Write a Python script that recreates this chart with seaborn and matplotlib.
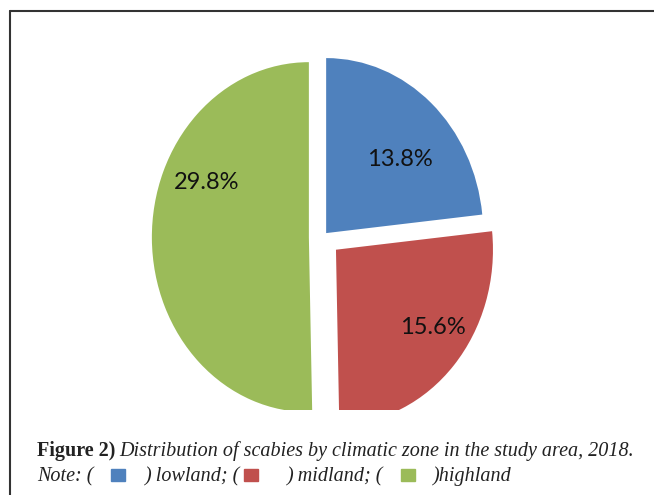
import matplotlib
matplotlib.use("Agg")
import matplotlib.pyplot as plt
import seaborn as sns
from matplotlib.lines import Line2D
from matplotlib.patches import Rectangle
import numpy as np

# data
zones = ["lowland", "midland", "highland"]
scabies_pct = [13.8, 15.6, 29.8]
zone_colors = ["#4F81BD", "#C0504D", "#9BBB59"]

sns.set_theme(style="white")
plt.rcParams["font.family"] = ["Lato", "DejaVu Sans"]

W, H = 654, 495
fig = plt.figure(figsize=(W / 100, H / 100), dpi=100)

# pie area (pixels from top-left)
ax_l, ax_r, ax_t, ax_b = 100, 546, 40, 410
cx, cy, rx, ry = 323, 237, 157, 175
ax = fig.add_axes([ax_l / W, (H - ax_b) / H, (ax_r - ax_l) / W, (ax_b - ax_t) / H])

total = sum(scabies_pct)
wedges, texts, autotexts = ax.pie(
    scabies_pct,
    colors=sns.color_palette(zone_colors),
    explode=[0.03, 0.11, 0.09],
    startangle=90,
    counterclock=False,
    autopct=lambda p: f"{p * total / 100:.1f}%",
    pctdistance=0.7,
    wedgeprops=dict(linewidth=0),
    textprops=dict(fontsize=17, color="#111111"),
)
ax.set_aspect("auto")
ax.set_xlim((ax_l - cx) / rx, (ax_r - cx) / rx)
ax.set_ylim((cy - ax_b) / ry, (cy - ax_t) / ry)
ax.axis("off")
for w in wedges:
    w.set_clip_on(True)

# label placement relative to each wedge's center
label_r = [0.63, 0.76, 0.72]
label_ang = [41.6, -35.9, 154.5]
for w, t, r, a in zip(wedges, autotexts, label_r, label_ang):
    x0, y0 = w.center
    t.set_position((x0 + r * np.cos(np.radians(a)), y0 + r * np.sin(np.radians(a))))

# frame lines
fig.add_artist(Line2D([10 / W, 1], [1 - 11 / H, 1 - 11 / H], color="#333333", lw=1.5))
fig.add_artist(Line2D([10 / W, 10 / W], [1 - 11 / H, 0], color="#333333", lw=1.5))

# caption
serif = ["Liberation Serif", "DejaVu Serif"]
cap_size = 14.5
fig.canvas.draw()
renderer = fig.canvas.get_renderer()
t1 = fig.text(37 / W, 1 - 456 / H, "Figure 2)", fontsize=cap_size, fontweight="bold",
              family=serif, color="#222222", va="baseline")
ext = t1.get_window_extent(renderer)
fig.text((ext.x1 + 4) / W, 1 - 456 / H,
         "Distribution of scabies by climatic zone in the study area, 2018.",
         fontsize=cap_size, style="italic", family=serif, color="#222222", va="baseline")

line2 = [(37, "Note: ("), (145, ") lowland; ("), (287, ") midland; ("), (433, ")highland")]
for x, s in line2:
    fig.text(x / W, 1 - 481 / H, s, fontsize=cap_size, style="italic", family=serif,
             color="#222222", va="baseline")
for x, c in zip([111, 244, 401], zone_colors):
    fig.add_artist(Rectangle((x / W, 1 - 481 / H), 14 / W, 12 / H, color=c,
                             transform=fig.transFigure))

fig.savefig("out.png", dpi=100)
